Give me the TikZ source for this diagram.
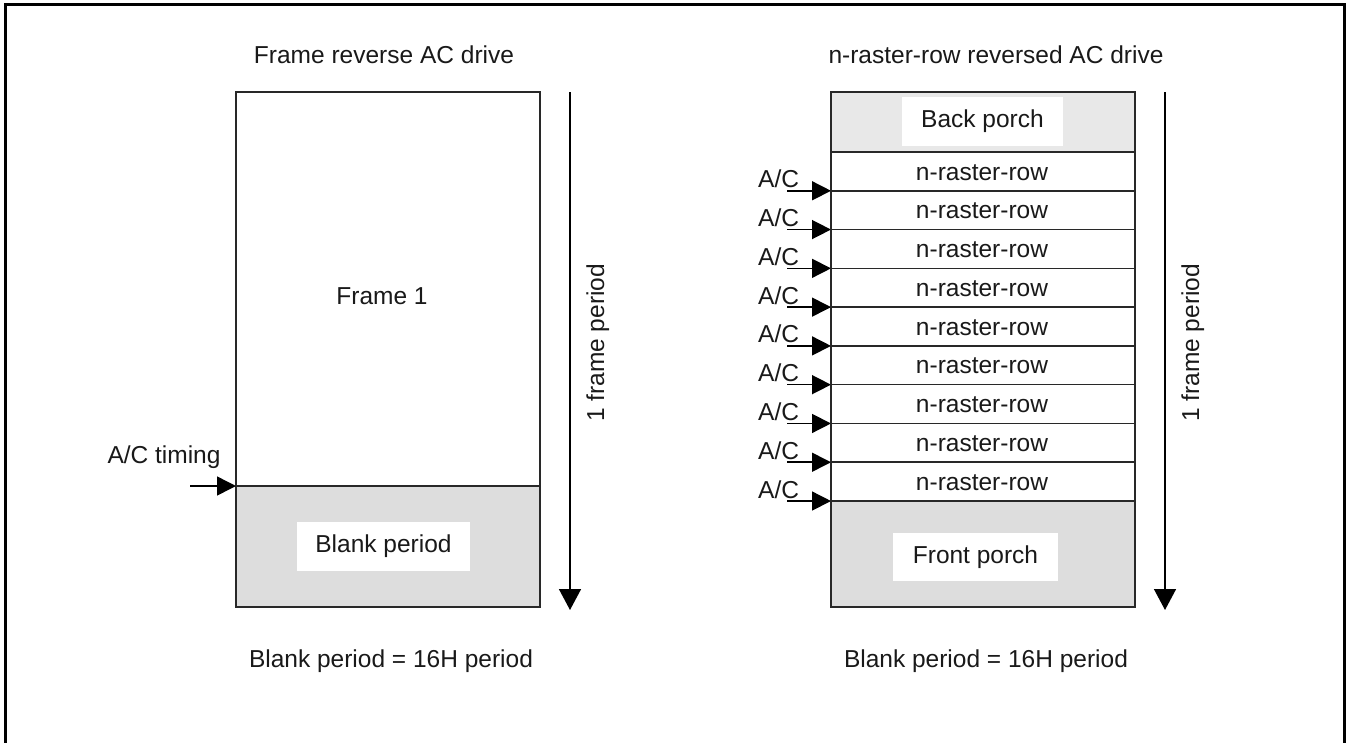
\documentclass[tikz,border=0pt]{standalone}
\usepackage{fontspec}
\setmainfont{Liberation Sans}
\usetikzlibrary{arrows.meta}
\definecolor{blankgray}{RGB}{221,221,221}
\definecolor{porchgray}{RGB}{232,232,232}
\definecolor{edgegray}{RGB}{40,40,40}
\begin{document}
\begin{tikzpicture}[x=1pt,y=1pt,
  txt/.style={font=\fontsize{24.5}{29}\selectfont, text=black!90, inner sep=0pt},
  region/.style={draw=edgegray, line width=1.6pt, inner sep=0pt, outer sep=0pt, anchor=north west, minimum width=304pt},
  fillonly/.style={inner sep=0pt, outer sep=0pt, anchor=north west, minimum width=304pt},
  whitebox/.style={txt, fill=white},
  varr/.style={line width=1.5pt, -{Triangle[length=21pt,width=22pt]}},
  harr/.style={line width=1.5pt, -{Triangle[length=19pt,width=19pt]}}]
\useasboundingbox (0,0) rectangle (1347,-742);
\clip (0,0) rectangle (1347,-742);
\draw[line width=2.6pt] (5.5,-760) -- (5.5,-4.5) -- (1344.5,-4.5) -- (1344.5,-760);

% ---------- left panel ----------
\node[txt, anchor=base] (ltitle) at (384,-63) {Frame reverse AC drive};
\node[region, fill=white, minimum height=394pt] (frame) at (236,-92) {};
\node[region, fill=blankgray, minimum height=121pt] (blank) at (236,-486) {};
\node[whitebox, minimum width=173pt, minimum height=49pt] (blanklbl) at (383.5,-546.5) {Blank period};
\node[txt, anchor=base] (frame1) at (382,-304) {Frame 1};
\node[txt, anchor=base] (timing) at (164,-463) {A/C timing};
\coordinate (tstart) at (190,-486);
\draw[harr] (tstart) -- (tstart -| blank.west);
\coordinate (lvtop) at (570,-92);
\coordinate (lvbot) at (570,-610);
\draw[varr] (lvtop) -- (lvbot);
\node[txt, rotate=90, anchor=base] (lperiod) at (604,-343) {1 frame period};
\node[txt, anchor=base] (lbottom) at (391,-667) {Blank period = 16H period};

% ---------- right panel ----------
\node[txt, anchor=base] (rtitle) at (996,-63) {n-raster-row reversed AC drive};
\node[fillonly, fill=porchgray, minimum height=60pt] (back) at (831,-92) {};
\node[whitebox, minimum width=161pt, minimum height=49pt] (backlbl) at (982.5,-121.5) {Back porch};
\node[fillonly, fill=blankgray, minimum height=106pt] (front) at (831,-501) {};
\node[whitebox, minimum width=165pt, minimum height=48pt] (frontlbl) at (975.5,-557) {Front porch};
\foreach \i in {1,...,9}{
  \pgfmathsetmacro{\rtop}{152+(\i-1)*38.78}
  \pgfmathsetmacro{\rbot}{\rtop+38.78}
  \node[region, minimum height=38.78pt] (row\i) at (831,-\rtop) {};
  \node[txt, anchor=base] (rowlbl\i) at (982,-\rtop-28) {n-raster-row};
  \node[txt, anchor=base west] (ac\i) at (758,-\rbot+3) {A/C};
  \coordinate (acstart\i) at (787,-\rbot);
  \draw[harr] (acstart\i) -- (acstart\i -| row\i.west);
}
\node[region, minimum height=515pt] (rframe) at (831,-92) {};
\coordinate (rvtop) at (1165,-92);
\coordinate (rvbot) at (1165,-610);
\draw[varr] (rvtop) -- (rvbot);
\node[txt, rotate=90, anchor=base] (rperiod) at (1199,-343) {1 frame period};
\node[txt, anchor=base] (rbottom) at (986,-667) {Blank period = 16H period};
\end{tikzpicture}
\end{document}
